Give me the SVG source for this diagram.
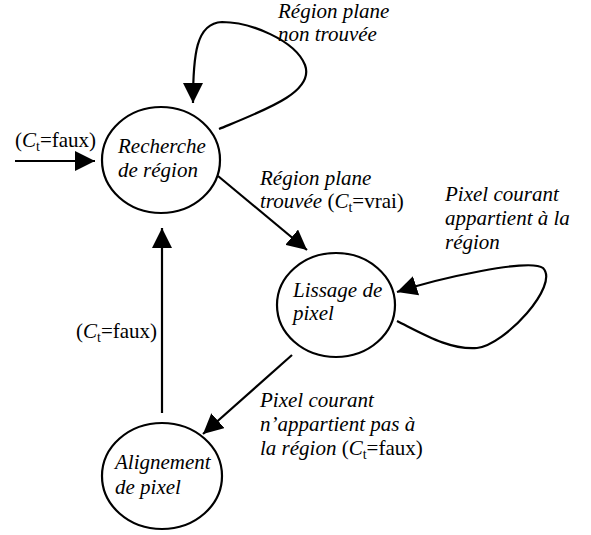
<svg xmlns="http://www.w3.org/2000/svg" width="591" height="535" viewBox="0 0 591 535" font-family="Liberation Serif, serif" font-size="21">
<style>
.node{fill:#fff;stroke:#000;stroke-width:2.2}
.edge{fill:none;stroke:#000;stroke-width:2.2}
.it{font-style:italic}
.sub{font-size:14px}
</style>
<defs>
<marker id="arr" viewBox="0 0 20 20" refX="20" refY="10" markerWidth="20" markerHeight="20" markerUnits="userSpaceOnUse" orient="auto">
<path d="M0,0 L20,10 L0,20 Z" fill="#000"/>
</marker>
</defs>
<g id="connectors">
<path class="edge" d="M15,161 L95,161" marker-end="url(#arr)"/>
<path class="edge" d="M219,129 C265,110 315,92 305,65 C295,40 250,22 222,22 C196,23 193,55 193,103" marker-end="url(#arr)"/>
<path class="edge" d="M218,176 L307,250" marker-end="url(#arr)"/>
<path class="edge" d="M397,321 C425,335 450,350 477,348 C505,345 560,285 543,268 C530,258 440,278 397,292" marker-end="url(#arr)"/>
<path class="edge" d="M292,355 L203,434" marker-end="url(#arr)"/>
<path class="edge" d="M162,413 L162,228" marker-end="url(#arr)"/>
</g>
<g id="node-recherche" font-style="italic">
<ellipse class="node" cx="161" cy="160" rx="59" ry="53"/>
<text x="118" y="153">Recherche</text>
<text x="118" y="177">de région</text>
</g>
<g id="node-lissage" font-style="italic">
<ellipse class="node" cx="336" cy="305" rx="59" ry="52"/>
<text x="293" y="297">Lissage de</text>
<text x="293" y="320">pixel</text>
</g>
<g id="node-alignement" font-style="italic">
<ellipse class="node" cx="162" cy="476" rx="60" ry="53"/>
<text x="115" y="469">Alignement</text>
<text x="115" y="494">de pixel</text>
</g>
<g id="labels">
<text x="15" y="147">(<tspan class="it">C</tspan><tspan class="sub" dy="4">t</tspan><tspan dy="-4">=faux)</tspan></text>
<text class="it" x="278" y="18">Région plane</text>
<text class="it" x="278" y="41">non trouvée</text>
<text class="it" x="260" y="185">Région plane</text>
<text x="260" y="208"><tspan class="it">trouvée</tspan> (<tspan class="it">C</tspan><tspan class="sub" dy="4">t</tspan><tspan dy="-4">=vrai)</tspan></text>
<text class="it" x="445" y="201">Pixel courant</text>
<text class="it" x="445" y="225">appartient à la</text>
<text class="it" x="445" y="249">région</text>
<text class="it" x="260" y="407">Pixel courant</text>
<text class="it" x="260" y="431">n’appartient pas à</text>
<text x="260" y="455"><tspan class="it">la région</tspan> (<tspan class="it">C</tspan><tspan class="sub" dy="4">t</tspan><tspan dy="-4">=faux)</tspan></text>
<text x="76" y="338">(<tspan class="it">C</tspan><tspan class="sub" dy="4">t</tspan><tspan dy="-4">=faux)</tspan></text>
</g>
</svg>
